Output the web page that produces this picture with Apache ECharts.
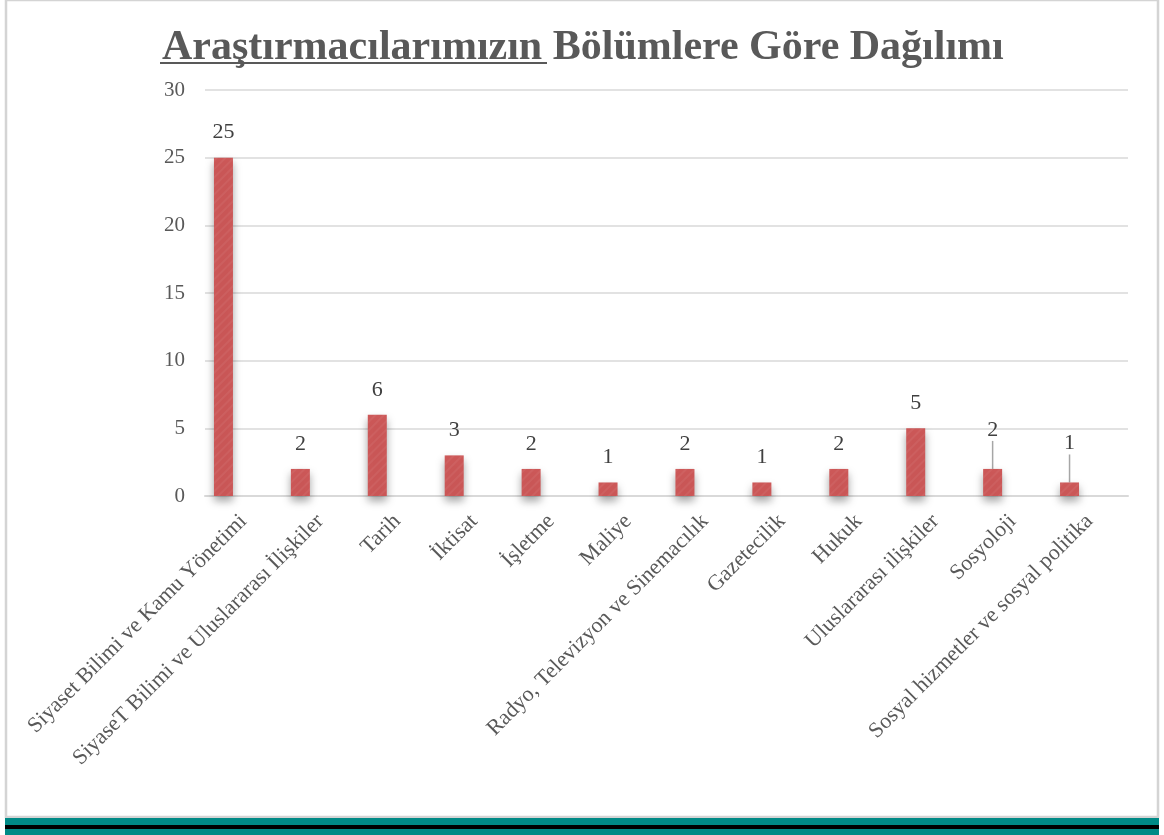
<!DOCTYPE html>
<html>
<head>
<meta charset="utf-8">
<script src="https://cdn.jsdelivr.net/npm/echarts@6/dist/echarts.min.js"></script>
<style>
    html, body { margin: 0; padding: 0; background: #fff; }
    #main { width: 1164px; height: 835px; }
</style>
</head>
<body>
<div id="main"></div>
<script type="text/javascript">
    // veriler
    var bolumler = [
        'Siyaset Bilimi ve Kamu Yönetimi',
        'SiyaseT Bilimi ve Uluslararası İlişkiler',
        'Tarih',
        'İktisat',
        'İşletme',
        'Maliye',
        'Radyo, Televizyon ve Sinemacılık',
        'Gazetecilik',
        'Hukuk',
        'Uluslararası ilişkiler',
        'Sosyoloji',
        'Sosyal hizmetler ve sosyal politika'
    ];
    var sayilar = [25, 2, 6, 3, 2, 1, 2, 1, 2, 5, 2, 1];
    var yTicks = [0, 5, 10, 15, 20, 25, 30];

    var font = '"Liberation Serif", "DejaVu Serif", serif';
    var gri = '#595959';

    // son iki etiket yukarı taşınıp çizgiyle bağlanıyor
    var barData = sayilar.map(function (v, i) {
        if (i >= 10) {
            return { value: v, labelLine: { show: true } };
        }
        return { value: v, labelLine: { show: false } };
    });

    var myChart = echarts.init(document.getElementById('main'));

    var option = {
        backgroundColor: '#fff',
        animation: false,
        title: {
            text: 'Araştırmacılarımızın Bölümlere Göre Dağılımı',
            left: 157,
            top: 22,
            textStyle: {
                fontFamily: font,
                fontSize: 42,
                fontWeight: 'bold',
                color: gri
            }
        },
        graphic: [
            // çerçeve
            { type: 'rect', shape: { x: 6, y: 0, width: 1152, height: 817 },
              style: { fill: 'none', stroke: '#d4d4d4', lineWidth: 2.5 }, z: -1 },
            // alt şeritler
            { type: 'rect', shape: { x: 5, y: 818, width: 1154, height: 7 }, style: { fill: '#008a86' } },
            { type: 'rect', shape: { x: 5, y: 825, width: 1154, height: 4 }, style: { fill: '#000' } },
            { type: 'rect', shape: { x: 5, y: 829, width: 1154, height: 6 }, style: { fill: '#008a86' } },
            // başlık alt çizgisi
            { type: 'rect', shape: { x: 160, y: 62, width: 387, height: 2 }, style: { fill: gri } }
        ],
        grid: [
            { left: 205, right: 36, top: 90, bottom: 339 },
            { left: 185, right: 56, top: 90, bottom: 339 }
        ],
        xAxis: [
            {
                type: 'category',
                gridIndex: 0,
                data: bolumler,
                axisLine: { show: true, lineStyle: { color: '#d9d9d9', width: 2 } },
                axisTick: { show: false },
                axisLabel: {
                    interval: 0,
                    rotate: 45,
                    margin: 22,
                    fontFamily: font,
                    fontSize: 22,
                    color: gri
                }
            },
            {
                type: 'category',
                gridIndex: 1,
                data: bolumler,
                show: false
            }
        ],
        yAxis: [
            {
                type: 'value',
                gridIndex: 0,
                min: 0,
                max: 30,
                interval: 5,
                axisLine: { show: false },
                axisTick: { show: false },
                splitLine: { lineStyle: { color: '#d9d9d9', width: 1.5 } },
                axisLabel: {
                    margin: 20,
                    fontFamily: font,
                    fontSize: 21,
                    color: gri,
                    formatter: function (v) { return yTicks.indexOf(v) >= 0 ? String(v) : ''; }
                }
            },
            {
                type: 'value',
                gridIndex: 1,
                min: 0,
                max: 30,
                interval: 5,
                show: false
            }
        ],
        series: [{
            type: 'bar',
            xAxisIndex: 1,
            yAxisIndex: 1,
            data: barData,
            barWidth: 19,
            itemStyle: {
                color: '#cd5858',
                shadowColor: 'rgba(0,0,0,0.35)',
                shadowBlur: 8,
                shadowOffsetY: 5,
                decal: {
                    symbol: 'rect',
                    color: 'rgba(255,255,255,0.06)',
                    dashArrayX: [1, 0],
                    dashArrayY: [2, 4],
                    rotation: -Math.PI / 4
                }
            },
            label: {
                show: true,
                position: 'top',
                distance: 14,
                fontFamily: font,
                fontSize: 22,
                color: '#404040'
            },
            labelLine: {
                lineStyle: { color: '#a6a6a6', width: 1.5 }
            },
            labelLayout: function (params) {
                if (params.dataIndex >= 10) {
                    return { dy: -14 };
                }
                return {};
            }
        }]
    };

    myChart.setOption(option);
</script>
</body>
</html>
